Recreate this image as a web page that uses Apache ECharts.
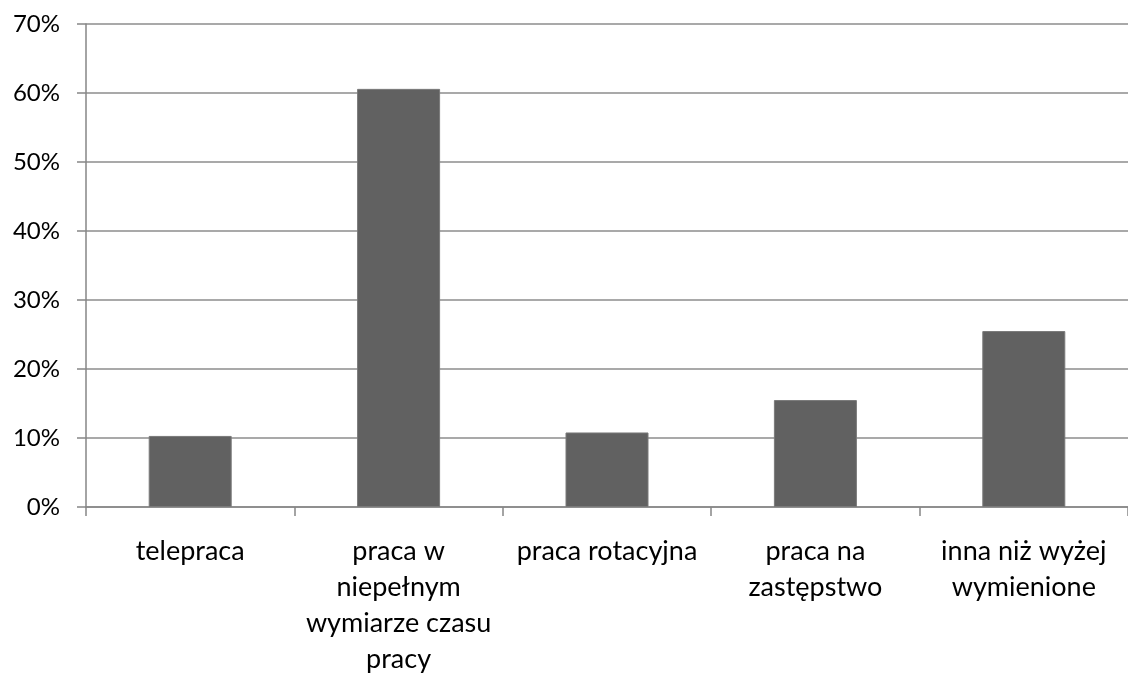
<!DOCTYPE html>
<html><head><meta charset="utf-8">
<script src="https://cdn.jsdelivr.net/npm/echarts@6/dist/echarts.min.js"></script>
<style>html,body{margin:0;padding:0;background:#fff;overflow:hidden}#c{width:1128px;height:677px}</style>
</head><body><div id="c"></div>
<script>
const categories = ["telepraca", "praca w\nniepełnym\nwymiarze czasu\npracy", "praca rotacyjna", "praca na\nzastępstwo", "inna niż wyżej\nwymienione"];
const values = [10.3, 60.6, 10.8, 15.5, 25.5];
const yTicks = [0, 10, 20, 30, 40, 50, 60, 70];

const chart = echarts.init(document.getElementById('c'), null, {renderer: 'canvas', width: 1128, height: 677});
const font = 'Lato';
chart.setOption({
  animation: false,
  grid: {left: 86, top: 24, width: 1052, height: 487, containLabel: false},
  xAxis: {
    type: 'category', data: categories,
    axisLine: {lineStyle: {color: '#868686', width: 1.5}},
    axisTick: {show: true, length: 9, lineStyle: {color: '#868686', width: 1.5}},
    axisLabel: {interval: 0, margin: 26, color: '#000', fontFamily: font, fontSize: 27, lineHeight: 36}
  },
  yAxis: {
    type: 'value', min: yTicks[0], max: yTicks[yTicks.length - 1], interval: 10,
    axisLine: {show: true, lineStyle: {color: '#868686', width: 1.5}},
    axisTick: {show: true, length: 9, lineStyle: {color: '#868686', width: 1.5}},
    splitLine: {lineStyle: {color: '#8c8c8c', width: 1.5}},
    axisLabel: {margin: 26, color: '#000', fontFamily: font, fontSize: 24, formatter: v => v + '%'}
  },
  series: [{
    type: 'bar', data: values, barWidth: 83,
    itemStyle: {color: '#616161', borderColor: '#7a7a7a', borderWidth: 1}
  }]
});
</script></body></html>
